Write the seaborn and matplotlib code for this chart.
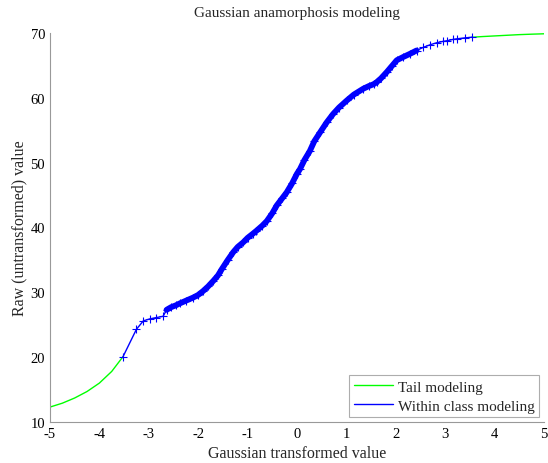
import matplotlib
matplotlib.use("Agg")
import matplotlib.pyplot as plt
import seaborn as sns

# Left tail (green)
tail_left_x = [-5.0, -4.75, -4.5, -4.25, -4.0, -3.75, -3.52]
tail_left_y = [12.3, 12.9, 13.7, 14.7, 16.0, 17.8, 20.1]

# Right tail (green)
tail_right_x = [3.54, 3.75, 4.0, 4.25, 4.5, 4.75, 5.0]
tail_right_y = [69.35, 69.45, 69.55, 69.65, 69.75, 69.82, 69.88]

# Within class modeling (blue)
class_x = [-3.52, -3.25, -3.11, -2.98, -2.85, -2.71, -2.64, -2.55, -2.45, -2.37,
           -2.25, -2.10, -2.00, -1.90, -1.80, -1.69, -1.60, -1.52, -1.40, -1.29,
           -1.20, -1.09, -1.00, -0.90, -0.82, -0.70, -0.61, -0.50, -0.41, -0.30,
           -0.21, -0.10, 0.00, 0.06, 0.15, 0.26, 0.35, 0.47, 0.60, 0.73,
           0.85, 1.01, 1.15, 1.34, 1.45, 1.55, 1.61, 1.70, 1.82, 1.92,
           2.02, 2.15, 2.29, 2.42, 2.56, 2.70, 2.83, 2.95, 3.03, 3.15,
           3.23, 3.40, 3.54]
class_y = [20.1, 24.3, 25.6, 25.9, 26.1, 26.3, 27.3, 27.7, 28.0, 28.3,
           28.7, 29.2, 29.6, 30.2, 30.9, 31.8, 32.6, 33.6, 35.0, 36.2,
           37.0, 37.7, 38.4, 39.0, 39.5, 40.3, 41.0, 42.2, 43.4, 44.5,
           45.4, 46.8, 48.3, 49.0, 50.4, 51.8, 53.3, 54.7, 56.2, 57.5,
           58.5, 59.6, 60.5, 61.4, 61.8, 62.1, 62.4, 63.0, 64.0, 64.9,
           65.8, 66.3, 66.8, 67.3, 67.8, 68.2, 68.5, 68.7, 68.8, 69.0,
           69.1, 69.25, 69.35]

# range where the class samples are dense (drawn as a thick band)
dense_range = (-2.64, 2.42)

x_ticks = [-5, -4, -3, -2, -1, 0, 1, 2, 3, 4, 5]
y_ticks = [10, 20, 30, 40, 50, 60, 70]

sns.set_theme(style="white")
plt.rcParams["font.family"] = ["Liberation Serif", "DejaVu Serif"]
plt.rcParams["axes.unicode_minus"] = False

fig = plt.figure(figsize=(5.48, 4.64), dpi=100)
ax = fig.add_axes([0.0912, 0.0884, 0.9015, 0.8383])

blue = (0, 0, 1)
green = (0, 1, 0)

sns.lineplot(x=tail_left_x, y=tail_left_y, ax=ax, color=green, lw=1.0,
             sort=False, estimator=None, label="Tail modeling")
sns.lineplot(x=tail_right_x, y=tail_right_y, ax=ax, color=green, lw=1.0,
             sort=False, estimator=None)

dx = [x for x in class_x if dense_range[0] <= x <= dense_range[1]]
dy = [y for x, y in zip(class_x, class_y) if dense_range[0] <= x <= dense_range[1]]
sns.lineplot(x=dx, y=dy, ax=ax, color=blue, lw=4.2, sort=False, estimator=None,
             solid_capstyle="round", solid_joinstyle="round")
sns.lineplot(x=class_x, y=class_y, ax=ax, color=blue, lw=1.0,
             marker="+", markersize=6, markeredgewidth=0.8, mec=blue,
             sort=False, estimator=None, label="Within class modeling")

ax.set_xlim(-5, 5)
ax.set_ylim(10, 70)
ax.set_xticks(x_ticks)
ax.set_yticks(y_ticks)
ax.tick_params(direction="in", length=4, width=0.8, color="#999999",
               labelsize=10.5, labelcolor="black", pad=3.5)
for s in ["top", "right"]:
    ax.spines[s].set_visible(False)
for s in ["left", "bottom"]:
    ax.spines[s].set_color("#999999")
    ax.spines[s].set_linewidth(0.8)

ax.set_title("Gaussian anamorphosis modeling", fontsize=11, pad=12)
ax.set_xlabel("Gaussian transformed value", fontsize=11.5, labelpad=3.5)
ax.set_ylabel("Raw (untransformed) value", fontsize=11.5, labelpad=2)

leg = ax.legend(loc="lower right", fontsize=11, frameon=True, fancybox=False,
                borderaxespad=0.3, handlelength=2.6, handletextpad=0.3,
                labelspacing=0.35, borderpad=0.3)
leg.get_frame().set_edgecolor("#999999")
leg.get_frame().set_linewidth(0.8)
for h in leg.legend_handles:
    h.set_marker("None")
    h.set_linewidth(1.0)

fig.savefig("out.png", dpi=100)
